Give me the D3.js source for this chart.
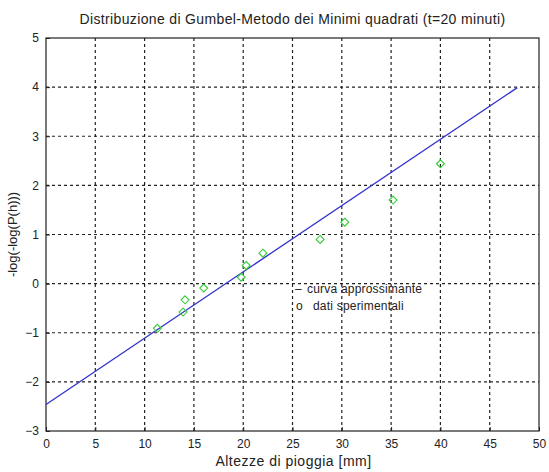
<!DOCTYPE html>
<html><head><meta charset="utf-8">
<script src="https://cdn.jsdelivr.net/npm/d3@7"></script>
<style>body{margin:0;background:#fff;}svg{display:block;font-family:"Liberation Sans",Arial,sans-serif;}</style>
</head><body><svg id="c" width="549" height="472"></svg>
<script>
const title = "Distribuzione di Gumbel-Metodo dei Minimi quadrati (t=20 minuti)";
const xLabel = "Altezze di pioggia [mm]";
const yLabel = "-log(-log(P(h)))";
const xTicks = [0,5,10,15,20,25,30,35,40,45,50];
const yTicks = [-3,-2,-1,0,1,2,3,4,5];
const dataX = [11.3,13.9,14.1,16.0,19.8,20.3,22.0,27.8,30.3,35.2,40.0];
const dataY = [-0.91,-0.58,-0.33,-0.09,0.13,0.37,0.62,0.90,1.25,1.70,2.44];
const lineX = [0,47.8];
const lineY = [-2.46,3.99];
const legendMarks = ["–","o"];
const legendLabels = ["curva approssimante","dati sperimentali"];

const svg = d3.select("#c");
const L=46,R=539,T=38,B=431;
const x = d3.scaleLinear().domain([0,50]).range([L,R]);
const y = d3.scaleLinear().domain([-3,5]).range([B,T]);

// grid
const g = svg.append("g");
g.selectAll(".gx").data(xTicks.slice(1,-1)).enter().append("line")
 .attr("x1",d=>x(d)).attr("x2",d=>x(d)).attr("y1",B).attr("y2",T)
 .attr("stroke","#222").attr("stroke-width",1.2).attr("stroke-dasharray","3,3");
g.selectAll(".gy").data(yTicks.slice(1,-1)).enter().append("line")
 .attr("y1",d=>y(d)).attr("y2",d=>y(d)).attr("x1",L).attr("x2",R)
 .attr("stroke","#222").attr("stroke-width",1.2).attr("stroke-dasharray","3,3");

// axes
const xa = svg.append("g").attr("transform",`translate(0,${B})`)
 .call(d3.axisBottom(x).tickValues(xTicks).tickSize(-4).tickPadding(8));
const ya = svg.append("g").attr("transform",`translate(${L},0)`)
 .call(d3.axisLeft(y).tickValues(yTicks).tickSize(-4).tickPadding(7));
[xa,ya].forEach(a=>{a.select(".domain").remove();
 a.selectAll("text").attr("font-size",12).attr("fill","#222").attr("font-family","Liberation Sans,Arial,sans-serif");
 a.selectAll("line").attr("stroke","#222");});
svg.append("rect").attr("x",L).attr("y",T).attr("width",R-L).attr("height",B-T)
 .attr("fill","none").attr("stroke","#222").attr("stroke-width",1.2);

// fitted line
svg.append("path").datum(lineX.map((d,i)=>[d,lineY[i]]))
 .attr("d",d3.line().x(d=>x(d[0])).y(d=>y(d[1])))
 .attr("stroke","#3333cc").attr("stroke-width",1.3).attr("fill","none");

// data diamonds
const sym = d3.symbol().type(d3.symbolDiamond2).size(40);
svg.selectAll(".pt").data(dataX.map((d,i)=>[d,dataY[i]])).enter().append("path")
 .attr("d",sym).attr("transform",d=>`translate(${x(d[0])},${y(d[1])})`)
 .attr("fill","none").attr("stroke","#33cc33").attr("stroke-width",1.1);

// legend
const lx=[295,296], tx=[307,313], ly=[293,310];
legendLabels.forEach((t,i)=>{
 svg.append("text").attr("x",lx[i]).attr("y",ly[i]).attr("font-size",12).attr("fill","#222").text(legendMarks[i]);
 svg.append("text").attr("x",tx[i]).attr("y",ly[i]).attr("font-size",12).attr("letter-spacing",0.2).attr("fill","#222").text(t);
});

// titles
svg.append("text").attr("x",(L+R)/2+0).attr("y",24).attr("text-anchor","middle").attr("font-size",14).attr("letter-spacing",0.35).attr("fill","#222").text(title);
svg.append("text").attr("x",(L+R)/2+1).attr("y",466).attr("text-anchor","middle").attr("font-size",14).attr("letter-spacing",0.5).attr("fill","#222").text(xLabel);
svg.append("text").attr("transform",`translate(17,${(T+B)/2}) rotate(-90)`).attr("text-anchor","middle").attr("font-size",13).attr("fill","#222").text(yLabel);
</script></body></html>
